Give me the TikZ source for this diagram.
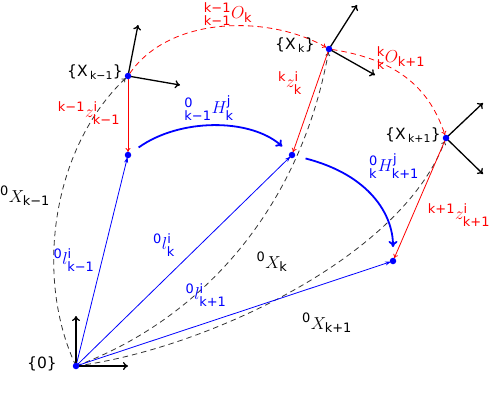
\documentclass[tikz,border=0pt]{standalone}
\usepackage{amsmath}
\usepackage{fontspec}
\setmainfont{DejaVu Sans}
\usetikzlibrary{arrows.meta}
\newcommand\tx[1]{\text{#1}}
\begin{document}
\begin{tikzpicture}[x=1pt,y=-1pt,
 pdot/.style={circle,fill=blue,inner sep=0pt,minimum size=6.5pt},
 axisarr/.style={black,line width=1.3pt,-{To[length=5pt,width=8pt]}},
 vec/.style={blue,line width=0.8pt,-{Stealth[length=6pt,width=4pt]},shorten >=2pt},
 zarr/.style={red,line width=0.8pt,-{To[length=4pt,width=5pt]},shorten >=3pt},
 chain/.style={black!80,dash pattern=on 5.5pt off 4pt,line width=0.8pt,-{To[length=4pt,width=5pt]},shorten >=3pt},
 rchain/.style={red,dash pattern=on 5.5pt off 4pt,line width=0.8pt,-{To[length=4pt,width=5pt]},shorten >=3pt},
 harc/.style={blue,line width=1.8pt,-{To[length=6pt,width=9pt]}},
 lab/.style={font=\fontsize{18.5}{22}\selectfont,inner sep=0pt},
 framelab/.style={font=\fontsize{15.5}{18}\selectfont,inner sep=0pt}]
\useasboundingbox (0,0) rectangle (491,416);
% points
\coordinate (O) at (76,366);
\coordinate (F1) at (128,76);
\coordinate (F2) at (329,49);
\coordinate (F3) at (446,138);
\coordinate (P1) at (128,155);
\coordinate (P2) at (292,155);
\coordinate (P3) at (393,261);
% axis tips
\coordinate (O1) at (76,316);
\coordinate (O2) at (128,366);
\coordinate (A1) at (138,25);
\coordinate (A2) at (180,85);
\coordinate (B1) at (357,5);
\coordinate (B2) at (375,75);
\coordinate (C1) at (483,103);
\coordinate (C2) at (483,174);
% dashed chains from origin
\draw[chain] (O) .. controls (35,280) and (50,150) .. (F1);
\draw[chain] (O) .. controls (200,320) and (300,210) .. (F2);
\draw[chain] (O) .. controls (200,350) and (400,260) .. (F3);
% red dashed between frames
\draw[rchain,shorten <=3pt] (F1) .. controls (170,15) and (270,15) .. (F2);
\draw[rchain,shorten <=3pt] (F2) .. controls (400,60) and (430,90) .. (F3);
% vectors
\draw[vec] (O) -- (P1);
\draw[vec] (O) -- (P2);
\draw[vec] (O) -- (P3);
% red z arrows
\draw[zarr] (F1) -- (P1);
\draw[zarr] (F2) -- (P2);
\draw[zarr] (F3) -- (P3);
% H arcs
\draw[harc,shorten <=13pt,shorten >=13pt] (P1) .. controls (180,118) and (250,118) .. (P2);
\draw[harc,shorten <=14pt,shorten >=14pt] (P2) .. controls (370,175) and (393,215) .. (P3);
% axes
\draw[axisarr] (O) -- (O1);
\draw[axisarr] (O) -- (O2);
\draw[axisarr] (F1) -- (A1);
\draw[axisarr] (F1) -- (A2);
\draw[axisarr] (F2) -- (B1);
\draw[axisarr] (F2) -- (B2);
\draw[axisarr] (F3) -- (C1);
\draw[axisarr] (F3) -- (C2);
% dots
\foreach \p in {O,F1,F2,F3,P1,P2,P3} \node[pdot] at (\p) {};
% frame labels
\node[framelab] (L0) at (42,364) {\{0\}};
\node[framelab] (L1) at (95,72) {\{X\,$_{\tx{k−1}}$\}};
\node[framelab] (L2) at (295,45) {\{X\,$_{\tx{k}}$\}};
\node[framelab] (L3) at (413,135) {\{X\,$_{\tx{k+1}}$\}};
% red labels
\node[lab,red] (Ok) at (228,14) {${}^{\tx{k−1}}_{\tx{k−1}}O_{\tx{k}}$};
\node[lab,red] (Ok1) at (401,58) {${}^{\tx{k}}_{\tx{k}}O_{\tx{k+1}}$};
\node[lab,red] (z1) at (89,113) {${}^{\tx{k−1}}z^{\tx{i}}_{\tx{k−1}}$};
\node[lab,red] (z2) at (290,83) {${}^{\tx{k}}z^{\tx{i}}_{\tx{k}}$};
\node[lab,red] (z3) at (459,215) {${}^{\tx{k+1}}z^{\tx{i}}_{\tx{k+1}}$};
% blue labels
\node[lab,blue] (H1) at (209,108) {${}^{\tx{0}}_{\tx{k−1}}H^{\tx{j}}_{\tx{k}}$};
\node[lab,blue] (H2) at (394,166) {${}^{\tx{0}}_{\tx{k}}H^{\tx{j}}_{\tx{k+1}}$};
\node[lab,blue] (l1) at (74,260) {${}^{\tx{0}}l^{\tx{i}}_{\tx{k−1}}$};
\node[lab,blue] (l2) at (164,245) {${}^{\tx{0}}l^{\tx{i}}_{\tx{k}}$};
\node[lab,blue] (l3) at (206,295) {${}^{\tx{0}}l^{\tx{i}}_{\tx{k+1}}$};
% black labels
\node[lab] (X1) at (25,196) {${}^{\tx{0}}X_{\tx{k−1}}$};
\node[lab] (X2) at (272,262) {${}^{\tx{0}}X_{\tx{k}}$};
\node[lab] (X3) at (327,323) {${}^{\tx{0}}X_{\tx{k+1}}$};
\end{tikzpicture}
\end{document}
